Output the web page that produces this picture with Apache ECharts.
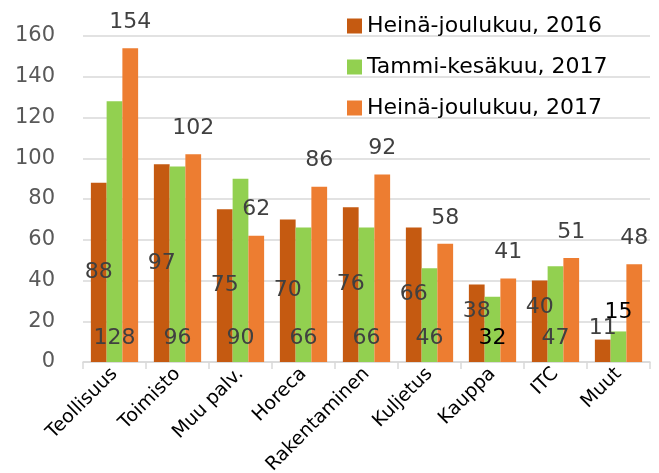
<!DOCTYPE html>
<html>
<head>
<meta charset="utf-8">
<script src="https://cdn.jsdelivr.net/npm/echarts@6/dist/echarts.min.js"></script>
<style>
  html, body { margin: 0; padding: 0; background: #fff; }
  #chart { width: 659px; height: 473px; }
</style>
</head>
<body>
<div id="chart"></div>
<script>
// data
let categories = ['Teollisuus', 'Toimisto', 'Muu palv.', 'Horeca', 'Rakentaminen', 'Kuljetus', 'Kauppa', 'ITC', 'Muut'];
let seriesNames = ['Heinä-joulukuu, 2016', 'Tammi-kesäkuu, 2017', 'Heinä-joulukuu, 2017'];
let h2_2016 = [88, 97, 75, 70, 76, 66, 38, 40, 11];
let h1_2017 = [128, 96, 90, 66, 66, 46, 32, 47, 15];
let h2_2017 = [154, 102, 62, 86, 92, 58, 41, 51, 48];

let colors = ['#C55A11', '#92D050', '#ED7D31'];
let font = '"DejaVu Sans", "Noto Sans", sans-serif';
let labelGray = '#404040';

let myChart = echarts.init(document.getElementById('chart'), null, { renderer: 'canvas' });

/* first series: label sits in the middle of the bar, a few small ones nudged up */
let d1 = h2_2016.map(function (v, i) {
  let item = { value: v };
  if (v < 45) {
    item.label = { position: 'top', distance: v < 20 ? 0 : -38 };
  }
  return item;
});

/* second series: labels low in the bar, two in black */
let d2 = h1_2017.map(function (v, i) {
  let item = { value: v };
  if (categories[i] === 'Kauppa') {
    item.label = { color: '#000' };
  }
  if (categories[i] === 'Muut') {
    item.label = { color: '#000', position: 'top', distance: 8 };
  }
  return item;
});

let option = {
  animation: false,
  textStyle: { fontFamily: font },
  color: colors,
  legend: {
    orient: 'vertical',
    left: 342,
    top: 10,
    itemWidth: 15,
    itemHeight: 15,
    itemGap: 19,
    icon: 'rect',
    textStyle: { fontSize: 22, color: '#000', fontFamily: font },
    data: seriesNames
  },
  grid: {
    left: 83,
    right: 9,
    top: 36,
    bottom: 111,
    containLabel: false,
    outerBoundsMode: 'none'
  },
  xAxis: {
    type: 'category',
    data: categories,
    axisLine: { lineStyle: { color: '#d9d9d9', width: 1.5 } },
    axisTick: { show: true, length: 7, lineStyle: { color: '#d9d9d9', width: 1.5 } },
    axisLabel: {
      rotate: 45,
      fontSize: 19,
      color: '#000',
      margin: 9,
      interval: 0,
      fontFamily: font
    }
  },
  yAxis: {
    type: 'value',
    min: 0,
    max: 160,
    interval: 20,
    axisLine: { show: false },
    axisTick: { show: false },
    axisLabel: { fontSize: 21, color: '#595959', margin: 28, fontFamily: font },
    splitLine: { lineStyle: { color: '#d9d9d9', width: 1.5 } }
  },
  series: [
    {
      name: seriesNames[0],
      type: 'bar',
      barGap: '0%',
      barCategoryGap: '25%',
      data: d1,
      label: { show: true, position: 'inside', fontSize: 22, color: labelGray, fontFamily: font }
    },
    {
      name: seriesNames[1],
      type: 'bar',
      barGap: '0%',
      barCategoryGap: '25%',
      data: d2,
      label: { show: true, position: 'insideBottom', distance: 13, fontSize: 22, color: labelGray, fontFamily: font }
    },
    {
      name: seriesNames[2],
      type: 'bar',
      barGap: '0%',
      barCategoryGap: '25%',
      data: h2_2017,
      label: { show: true, position: 'top', distance: 15, fontSize: 22, color: labelGray, fontFamily: font }
    }
  ]
};

myChart.setOption(option, true);
</script>
</body>
</html>
